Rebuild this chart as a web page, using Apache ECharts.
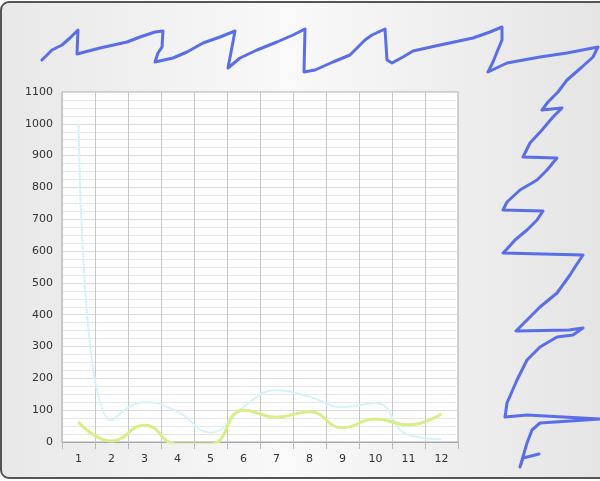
<!DOCTYPE html>
<html>
<head>
<meta charset="utf-8">
<title>chart</title>
<script src="https://cdn.jsdelivr.net/npm/echarts@6/dist/echarts.min.js"></script>
<style>
html, body { margin: 0; padding: 0; background: #fff; }
#main { width: 600px; height: 481px; }
</style>
</head>
<body>
<div id="main"></div>
<script>
// x轴类目
var months = ['1', '2', '3', '4', '5', '6', '7', '8', '9', '10', '11', '12'];
// 浅青色曲线
var cyanValues = [1000, 68, 125, 95, 30, 110, 163, 142, 110, 122, 22, 9];
// 黄绿色曲线 (4、5 两处略低于0, 被坐标区裁掉)
var greenValues = [63, 3, 53, -7, -7, 100, 78, 95, 45, 72, 54, 88];
// y轴刻度
var yMin = 0;
var yMax = 1100;
var yStep = 100;

/**
 * 手绘涂鸦线 (图片上方和右侧的蓝色笔迹)
 */
function scribbleGraphic() {
	var points = [[42,60],[52,50],[62,45],[70,38],[78,30],[77,54],[100,48],[127,42],[140,37],[155,32],[163,31],
		[162,47],[158,53],[155,62],[173,58],[187,52],[203,43],[220,37],[235,31],[232,47],[228,68],[240,58],
		[257,50],[277,42],[293,35],[305,29],[304,72],[315,70],[333,62],[350,55],[358,47],[365,40],[372,35],
		[385,29],[387,60],[392,63],[403,57],[413,51],[440,45],[473,38],[490,32],[502,27],[502,40],[497,52],
		[493,62],[488,72],[507,63],[540,57],[567,53],[598,47],[593,57],[582,67],[567,80],[558,92],[548,102],
		[542,110],[562,108],[553,117],[542,130],[530,143],[523,157],[557,158],[547,170],[537,180],[520,190],
		[507,202],[503,210],[543,211],[537,220],[527,230],[515,240],[507,249],[503,253],[583,255],[575,267],
		[570,275],[557,293],[540,307],[527,320],[516,331],[569,330],[583,328],[573,335],[557,337],[540,347],
		[527,360],[517,380],[507,403],[505,417],[527,415],[600,419],[585,420],[540,423],[532,430],[527,443],
		[520,467],[523,458],[539,454]];
	return {
		type: 'polyline',
		z: 100,
		silent: true,
		shape: { points: points },
		style: { stroke: '#5a6ee8', lineWidth: 3, fill: null, lineJoin: 'round', lineCap: 'round' }
	};
}

function loadLineChart() {
	var chart = echarts.init(document.getElementById('main'));
	var option = {
		animation: false,
		backgroundColor: '#fff',
		graphic: [{
			type: 'rect',
			z: -10,
			silent: true,
			shape: { x: 1, y: 2, width: 640, height: 476, r: 8 },
			style: {
				fill: new echarts.graphic.LinearGradient(0, 0, 1, 0, [
					{ offset: 0, color: '#e8e8e8' },
					{ offset: 0.45, color: '#f9f9f9' },
					{ offset: 1, color: '#e2e2e2' }
				]),
				stroke: '#555',
				lineWidth: 2
			}
		}, scribbleGraphic()],
		grid: {
			left: 62,
			top: 92,
			width: 396,
			height: 350,
			show: true,
			backgroundColor: '#fff',
			borderColor: '#a8a8a8',
			borderWidth: 1,
			outerBoundsMode: 'none'
		},
		xAxis: {
			type: 'category',
			data: months,
			boundaryGap: true,
			axisLine: { lineStyle: { color: '#a8a8a8' } },
			axisTick: { show: true, length: 7, lineStyle: { color: '#b8b8b8' } },
			axisLabel: { color: '#333', fontFamily: 'DejaVu Sans', fontSize: 11, margin: 12 },
			splitLine: { show: true, lineStyle: { color: '#c8c8c8' } }
		},
		yAxis: {
			type: 'value',
			min: yMin,
			max: yMax,
			interval: yStep,
			axisLine: { show: false },
			axisTick: { show: false },
			axisLabel: {
				color: '#333', fontFamily: 'DejaVu Sans', fontSize: 11, margin: 9,
				formatter: function(v) { return String(v); }
			},
			splitLine: { show: true, lineStyle: { color: '#dcdcdc' } },
			minorTick: { show: false, splitNumber: 4 },
			minorSplitLine: { show: true, lineStyle: { color: '#e8e8e8' } }
		},
		series: [{
			type: 'line',
			data: cyanValues,
			smooth: true,
			showSymbol: false,
			clip: true,
			lineStyle: { color: '#d6f3f8', width: 2 }
		}, {
			type: 'line',
			data: greenValues,
			smooth: true,
			showSymbol: false,
			clip: true,
			lineStyle: { color: '#d8ef88', width: 3 }
		}]
	};
	chart.setOption(option);
}

loadLineChart();
</script>
</body>
</html>
